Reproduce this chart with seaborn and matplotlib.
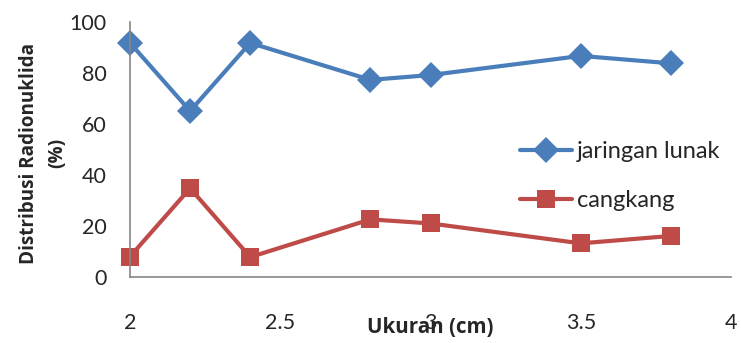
import numpy as np
import pandas as pd
import matplotlib
matplotlib.use("Agg")
import matplotlib.pyplot as plt
import seaborn as sns

# Data
ukuran = [2.0, 2.2, 2.4, 2.8, 3.0, 3.5, 3.8]
jaringan_lunak = [91.8, 65.1, 91.8, 77.3, 79.2, 86.7, 83.8]
cangkang = [8.0, 34.8, 7.8, 22.6, 21.0, 13.2, 16.1]
series_names = ["jaringan lunak", "cangkang"]
x_ticks = [2, 2.5, 3, 3.5, 4]
y_ticks = [0, 20, 40, 60, 80, 100]

df = pd.DataFrame({
    "Ukuran": ukuran * 2,
    "Nilai": jaringan_lunak + cangkang,
    "Seri": [series_names[0]] * len(ukuran) + [series_names[1]] * len(ukuran),
})

sns.set_style("white")
plt.rcParams['font.family'] = ['Lato', 'DejaVu Sans']

fig = plt.figure(figsize=(7.41, 3.43), dpi=100)
ax = fig.add_axes([130 / 741, 1 - 277 / 343, 601 / 741, 255 / 343])

palette = {"jaringan lunak": "#4A7EBB", "cangkang": "#BE4B48"}
markers = {"jaringan lunak": "D", "cangkang": "s"}
sns.lineplot(data=df, x="Ukuran", y="Nilai", hue="Seri", style="Seri",
             palette=palette, markers=markers, dashes=False, linewidth=3,
             markersize=13, markeredgewidth=0, ax=ax)

ax.set_xlim(2, 4)
ax.set_ylim(0, 100)
ax.set_xticks(x_ticks)
ax.set_xticklabels(["2", "2.5", "3", "3.5", "4"])
ax.set_yticks(y_ticks)
ax.tick_params(axis='x', length=0, pad=26, labelsize=15.5)
ax.tick_params(axis='y', length=0, pad=17, labelsize=15.5)

for s in ["top", "right"]:
    ax.spines[s].set_visible(False)
for s in ["left", "bottom"]:
    ax.spines[s].set_color("#868686")
    ax.spines[s].set_linewidth(1.2)
for ln in ax.lines:
    ln.set_clip_on(False)

bold_x = {"family": ["Open Sans", "DejaVu Sans"], "weight": "bold", "size": 14.8}
bold_y = {"family": ["Open Sans", "DejaVu Sans"], "weight": "bold", "size": 13.6}
ax.set_xlabel("Ukuran (cm)", fontdict=bold_x)
ax.xaxis.set_label_coords(0.5, -0.155)
ax.set_ylabel("Distribusi Radionuklida\n(%)", fontdict=bold_y, linespacing=1.5)
ax.yaxis.set_label_coords(-0.105, 0.485)

leg = ax.legend(loc="upper left", bbox_to_anchor=(520 / 741, 1 - 141 / 343),
                bbox_transform=fig.transFigure, frameon=False, fontsize=17,
                handlelength=2.2, handletextpad=0.2, labelspacing=1.2,
                borderpad=0, borderaxespad=0, title=None)

fig.savefig("out.png", dpi=100)
